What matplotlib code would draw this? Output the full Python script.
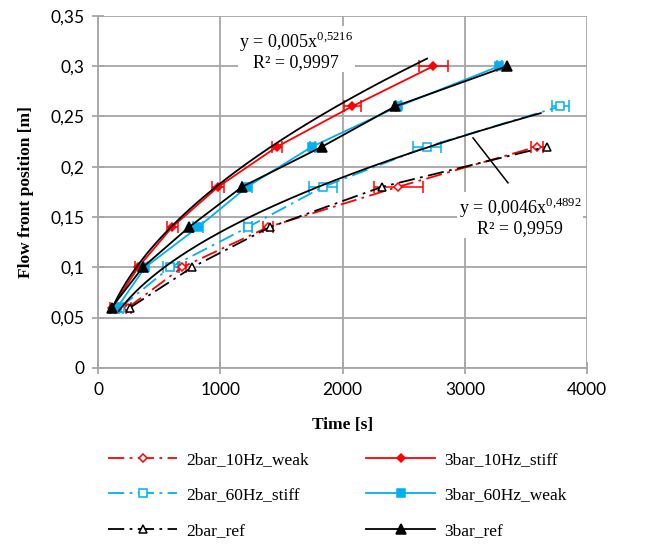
import matplotlib.pyplot as plt
import numpy as np
from matplotlib.ticker import FuncFormatter

plt.rcParams['mathtext.fontset'] = 'custom'
plt.rcParams['mathtext.rm'] = 'Liberation Serif'

# flow front position [m] and time [s] for each test
pos_2bar = [0.06, 0.10, 0.14, 0.18, 0.22]
pos_2bar_60 = [0.06, 0.10, 0.14, 0.18, 0.22, 0.26]
pos_3bar = [0.06, 0.10, 0.14, 0.18, 0.22, 0.26, 0.30]

t_2bar_10Hz_weak = [245, 687, 1390, 2453, 3590]
e_2bar_10Hz_weak = [20, 30, 40, 200, 50]
t_2bar_60Hz_stiff = [180, 589, 1226, 1840, 2690, 3778]
e_2bar_60Hz_stiff = [20, 60, 30, 115, 115, 70]
t_2bar_ref = [262, 769, 1406, 2322, 3671]

t_3bar_10Hz_stiff = [115, 327, 605, 981, 1464, 2077, 2740]
e_3bar_10Hz_stiff = [20, 30, 45, 50, 40, 70, 118]
t_3bar_60Hz_weak = [155, 384, 818, 1218, 1750, 2453, 3279]
e_3bar_60Hz_weak = [15, 20, 40, 40, 20, 20, 20]
t_3bar_ref = [110, 365, 744, 1177, 1832, 2428, 3344]

# power-law fits y = a*x^b
fit1 = (0.005, 0.5216, 100, 2690)
fit2 = (0.0046, 0.4892, 170, 3620)

red = '#ff0000'
cyan = '#00b0f0'
grid_c = '#a6a6a6'
dashdot = (0, (9, 3, 1.5, 3))

fig = plt.figure(figsize=(6.46, 5.49), dpi=100)
ax = fig.add_axes([0.152, 0.330, 0.757, 0.641])

def series(t, y, err, color, marker, ls, fill, ms, label):
    mfc = color if fill else 'white'
    line, = ax.plot(t, y, color=color, ls=ls, lw=1.3, marker=marker,
                    ms=ms, mfc=mfc, mec=color, mew=1.1, label=label, zorder=4)
    if err is not None:
        ax.errorbar(t, y, xerr=err, fmt='none', ecolor=color, elinewidth=1.1,
                    capsize=4, capthick=1.1, zorder=3)
    return line

h1 = series(t_2bar_10Hz_weak, pos_2bar, e_2bar_10Hz_weak, red, 'D', dashdot, False, 4.5, '2bar_10Hz_weak')
h2 = series(t_3bar_10Hz_stiff, pos_3bar, e_3bar_10Hz_stiff, red, 'D', '-', True, 4.5, '3bar_10Hz_stiff')
h3 = series(t_2bar_60Hz_stiff, pos_2bar_60, e_2bar_60Hz_stiff, cyan, 's', dashdot, False, 5.5, '2bar_60Hz_stiff')
h4 = series(t_3bar_60Hz_weak, pos_3bar, e_3bar_60Hz_weak, cyan, 's', '-', True, 6, '3bar_60Hz_weak')
h5 = series(t_2bar_ref, pos_2bar, None, 'black', '^', dashdot, False, 6, '2bar_ref')
h6 = series(t_3bar_ref, pos_3bar, None, 'black', '^', '-', True, 7, '3bar_ref')

for a, b, x0, x1 in (fit1, fit2):
    xx = np.linspace(x0, x1, 200)
    ax.plot(xx, a * xx ** b, color='black', lw=1.3, zorder=5)

# leader line for second fit
ax.plot([3066, 3352], [0.2287, 0.184], color='black', lw=1.1, zorder=5)

box = dict(facecolor='white', edgecolor='none', pad=1)
ax.text(1620, 0.316, 'y = 0,005x$^{0{,}5216}$\nR² = 0,9997', ha='center', va='center',
        family='Liberation Serif', fontsize=13, linespacing=1.0, bbox=box, zorder=6)
ax.text(3450, 0.1506, 'y = 0,0046x$^{0{,}4892}$\nR² = 0,9959', ha='center', va='center',
        family='Liberation Serif', fontsize=13, linespacing=1.0, bbox=box, zorder=6)

ax.set_xlim(0, 4000)
ax.set_ylim(0, 0.35)
ax.set_xticks(np.arange(0, 4001, 1000))
ax.set_yticks(np.arange(0, 0.351, 0.05))
ax.yaxis.set_major_formatter(FuncFormatter(lambda v, p: ('%.2f' % v).rstrip('0').rstrip('.').replace('.', ',')))
ax.grid(True, color=grid_c, lw=1.3)
ax.set_axisbelow(True)
for s in ('top', 'right'):
    ax.spines[s].set_visible(False)
for s in ('left', 'bottom'):
    ax.spines[s].set_color(grid_c)
    ax.spines[s].set_linewidth(1.3)
ax.tick_params(direction='inout', length=8, color=grid_c, width=1.3, labelsize=12.5, pad=6)
for lab in ax.get_xticklabels() + ax.get_yticklabels():
    lab.set_family('Lato')

ax.set_xlabel('Time [s]', family='Liberation Serif', fontweight='bold', fontsize=12.5, labelpad=14)
ax.set_ylabel('Flow front position [m]', family='Liberation Serif', fontweight='bold', fontsize=12.5, labelpad=12)

# column-wise order so rows read 2bar / 3bar
leg = fig.legend(handles=[h1, h3, h5, h2, h4, h6], loc='upper left', bbox_to_anchor=(0.143, 0.205),
                 ncol=2, frameon=False, prop={'family': 'Liberation Serif', 'size': 12.5},
                 handlelength=4.0, numpoints=1, columnspacing=3.3, labelspacing=1.1, handletextpad=0.5)

fig.savefig('out.png', dpi=100)
